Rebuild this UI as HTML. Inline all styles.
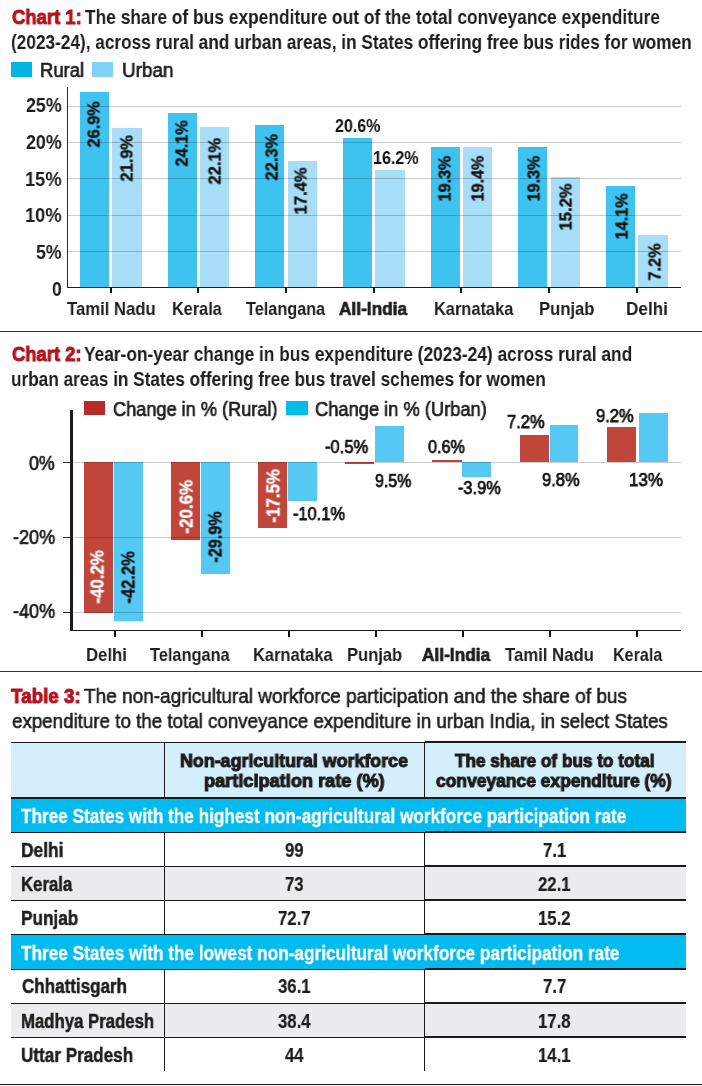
<!DOCTYPE html>
<html><head><meta charset="utf-8"><style>
html,body{margin:0;padding:0;background:#fff;}
body{width:702px;height:1086px;position:relative;overflow:hidden;font-family:"Liberation Sans", sans-serif;}
.r{position:absolute;}
.t{position:absolute;line-height:0;white-space:nowrap;transform-origin:0 0;will-change:transform;}
</style></head><body>
<div class="r" style="left:11.10px;top:61.80px;width:20.70px;height:15.00px;background:#00b4e6;"></div>
<div class="r" style="left:92.10px;top:61.80px;width:21.00px;height:15.00px;background:#80d1f3;"></div>
<div class="r" style="left:80.20px;top:92.10px;width:28.70px;height:194.90px;background:#3ec3f0;"></div>
<div class="r" style="left:112.20px;top:128.10px;width:29.60px;height:158.90px;background:#a8ddf7;"></div>
<div class="r" style="left:168.00px;top:113.00px;width:28.80px;height:174.00px;background:#3ec3f0;"></div>
<div class="r" style="left:200.20px;top:127.00px;width:28.80px;height:160.00px;background:#a8ddf7;"></div>
<div class="r" style="left:255.20px;top:125.10px;width:28.80px;height:161.90px;background:#3ec3f0;"></div>
<div class="r" style="left:288.40px;top:161.00px;width:28.50px;height:126.00px;background:#a8ddf7;"></div>
<div class="r" style="left:343.40px;top:137.90px;width:28.50px;height:149.10px;background:#3ec3f0;"></div>
<div class="r" style="left:375.00px;top:169.80px;width:29.90px;height:117.20px;background:#a8ddf7;"></div>
<div class="r" style="left:431.10px;top:146.80px;width:28.80px;height:140.20px;background:#3ec3f0;"></div>
<div class="r" style="left:463.00px;top:146.80px;width:28.80px;height:140.20px;background:#a8ddf7;"></div>
<div class="r" style="left:518.00px;top:146.90px;width:28.80px;height:140.10px;background:#3ec3f0;"></div>
<div class="r" style="left:551.20px;top:177.00px;width:28.60px;height:110.00px;background:#a8ddf7;"></div>
<div class="r" style="left:606.20px;top:186.20px;width:28.70px;height:100.80px;background:#3ec3f0;"></div>
<div class="r" style="left:638.20px;top:235.00px;width:29.60px;height:52.00px;background:#a8ddf7;"></div>
<div class="r" style="left:68.00px;top:106.00px;width:613.00px;height:1.00px;background:rgba(0,0,0,0.2);"></div>
<div class="r" style="left:68.00px;top:142.00px;width:613.00px;height:1.00px;background:rgba(0,0,0,0.2);"></div>
<div class="r" style="left:68.00px;top:178.00px;width:613.00px;height:1.00px;background:rgba(0,0,0,0.2);"></div>
<div class="r" style="left:68.00px;top:215.00px;width:613.00px;height:1.00px;background:rgba(0,0,0,0.2);"></div>
<div class="r" style="left:68.00px;top:251.00px;width:613.00px;height:1.00px;background:rgba(0,0,0,0.2);"></div>
<div class="r" style="left:66.90px;top:87.00px;width:1.20px;height:200.50px;background:#2b2b2b;"></div>
<div class="r" style="left:66.90px;top:286.80px;width:614.60px;height:1.20px;background:#1f1f1f;"></div>
<div class="r" style="left:110.00px;top:287.50px;width:2.00px;height:5.30px;background:#111;"></div>
<div class="r" style="left:197.40px;top:287.50px;width:2.00px;height:5.30px;background:#111;"></div>
<div class="r" style="left:284.60px;top:287.50px;width:2.00px;height:5.30px;background:#111;"></div>
<div class="r" style="left:372.50px;top:287.50px;width:2.00px;height:5.30px;background:#111;"></div>
<div class="r" style="left:459.90px;top:287.50px;width:2.00px;height:5.30px;background:#111;"></div>
<div class="r" style="left:547.90px;top:287.50px;width:2.00px;height:5.30px;background:#111;"></div>
<div class="r" style="left:635.60px;top:287.50px;width:2.00px;height:5.30px;background:#111;"></div>
<div class="r" style="left:0.00px;top:330.80px;width:702.00px;height:1.30px;background:#333;"></div>
<div class="r" style="left:83.70px;top:400.80px;width:21.50px;height:14.70px;background:#b92b2a;"></div>
<div class="r" style="left:286.30px;top:400.80px;width:21.60px;height:14.70px;background:#00bde9;"></div>
<div class="r" style="left:84.00px;top:462.40px;width:28.90px;height:150.40px;background:#c0453a;"></div>
<div class="r" style="left:114.10px;top:462.40px;width:28.70px;height:158.40px;background:#55c9f3;"></div>
<div class="r" style="left:171.20px;top:462.40px;width:28.70px;height:77.20px;background:#c0453a;"></div>
<div class="r" style="left:201.00px;top:462.40px;width:29.00px;height:112.10px;background:#55c9f3;"></div>
<div class="r" style="left:258.00px;top:462.40px;width:28.90px;height:65.30px;background:#c0453a;"></div>
<div class="r" style="left:288.10px;top:462.40px;width:28.90px;height:38.20px;background:#55c9f3;"></div>
<div class="r" style="left:345.00px;top:462.40px;width:28.70px;height:1.90px;background:#c0453a;"></div>
<div class="r" style="left:375.20px;top:426.00px;width:28.40px;height:36.40px;background:#55c9f3;"></div>
<div class="r" style="left:432.00px;top:460.10px;width:29.70px;height:2.30px;background:#c0453a;"></div>
<div class="r" style="left:462.00px;top:462.40px;width:29.00px;height:14.30px;background:#55c9f3;"></div>
<div class="r" style="left:520.20px;top:434.90px;width:28.70px;height:27.50px;background:#c0453a;"></div>
<div class="r" style="left:549.50px;top:424.90px;width:28.40px;height:37.50px;background:#55c9f3;"></div>
<div class="r" style="left:607.20px;top:427.10px;width:28.70px;height:35.30px;background:#c0453a;"></div>
<div class="r" style="left:639.20px;top:412.80px;width:28.70px;height:49.60px;background:#55c9f3;"></div>
<div class="r" style="left:73.00px;top:462.00px;width:608.00px;height:1.00px;background:rgba(0,0,0,0.2);"></div>
<div class="r" style="left:63.00px;top:461.90px;width:8.00px;height:1.20px;background:#2b2b2b;"></div>
<div class="r" style="left:73.00px;top:537.00px;width:608.00px;height:1.00px;background:rgba(0,0,0,0.2);"></div>
<div class="r" style="left:63.00px;top:536.90px;width:8.00px;height:1.20px;background:#2b2b2b;"></div>
<div class="r" style="left:73.00px;top:612.00px;width:608.00px;height:1.00px;background:rgba(0,0,0,0.2);"></div>
<div class="r" style="left:63.00px;top:611.90px;width:8.00px;height:1.20px;background:#2b2b2b;"></div>
<div class="r" style="left:70.30px;top:409.50px;width:2.70px;height:221.50px;background:#1a1a1a;"></div>
<div class="r" style="left:70.30px;top:629.80px;width:610.70px;height:1.40px;background:#1a1a1a;"></div>
<div class="r" style="left:113.95px;top:630.50px;width:1.90px;height:6.20px;background:#111;"></div>
<div class="r" style="left:200.85px;top:630.50px;width:1.90px;height:6.20px;background:#111;"></div>
<div class="r" style="left:288.05px;top:630.50px;width:1.90px;height:6.20px;background:#111;"></div>
<div class="r" style="left:375.15px;top:630.50px;width:1.90px;height:6.20px;background:#111;"></div>
<div class="r" style="left:462.25px;top:630.50px;width:1.90px;height:6.20px;background:#111;"></div>
<div class="r" style="left:549.45px;top:630.50px;width:1.90px;height:6.20px;background:#111;"></div>
<div class="r" style="left:636.05px;top:630.50px;width:1.90px;height:6.20px;background:#111;"></div>
<div class="r" style="left:0.00px;top:670.50px;width:702.00px;height:1.30px;background:#333;"></div>
<div class="r" style="left:11.00px;top:742.80px;width:674.70px;height:54.40px;background:#d5eefb;"></div>
<div class="r" style="left:11.00px;top:799.20px;width:674.70px;height:32.80px;background:#00bbf0;"></div>
<div class="r" style="left:11.00px;top:935.30px;width:674.70px;height:33.70px;background:#00bbf0;"></div>
<div class="r" style="left:11.00px;top:866.70px;width:674.70px;height:33.30px;background:#ebecee;"></div>
<div class="r" style="left:11.00px;top:1003.80px;width:674.70px;height:33.20px;background:#ebecee;"></div>
<div class="r" style="left:11.00px;top:741.80px;width:674.70px;height:1.00px;background:#1a1a1a;"></div>
<div class="r" style="left:424.50px;top:741.00px;width:261.20px;height:1.80px;background:#1a1a1a;"></div>
<div class="r" style="left:11.00px;top:797.20px;width:674.70px;height:2.00px;background:#1a1a1a;"></div>
<div class="r" style="left:11.00px;top:831.70px;width:674.70px;height:1.10px;background:#1a1a1a;"></div>
<div class="r" style="left:424.50px;top:830.80px;width:261.20px;height:2.00px;background:#1a1a1a;"></div>
<div class="r" style="left:11.00px;top:865.70px;width:674.70px;height:1.10px;background:#1a1a1a;"></div>
<div class="r" style="left:424.50px;top:864.80px;width:261.20px;height:2.00px;background:#1a1a1a;"></div>
<div class="r" style="left:11.00px;top:899.80px;width:674.70px;height:1.10px;background:#1a1a1a;"></div>
<div class="r" style="left:424.50px;top:898.90px;width:261.20px;height:2.00px;background:#1a1a1a;"></div>
<div class="r" style="left:11.00px;top:934.20px;width:674.70px;height:1.10px;background:#1a1a1a;"></div>
<div class="r" style="left:424.50px;top:933.30px;width:261.20px;height:2.00px;background:#1a1a1a;"></div>
<div class="r" style="left:11.00px;top:968.60px;width:674.70px;height:1.10px;background:#1a1a1a;"></div>
<div class="r" style="left:424.50px;top:967.70px;width:261.20px;height:2.00px;background:#1a1a1a;"></div>
<div class="r" style="left:11.00px;top:1003.00px;width:674.70px;height:1.10px;background:#1a1a1a;"></div>
<div class="r" style="left:424.50px;top:1002.10px;width:261.20px;height:2.00px;background:#1a1a1a;"></div>
<div class="r" style="left:11.00px;top:1037.00px;width:674.70px;height:1.10px;background:#1a1a1a;"></div>
<div class="r" style="left:424.50px;top:1036.10px;width:261.20px;height:2.00px;background:#1a1a1a;"></div>
<div class="r" style="left:164.20px;top:742.00px;width:1.10px;height:55.20px;background:#1a1a1a;"></div>
<div class="r" style="left:164.20px;top:832.00px;width:1.10px;height:102.50px;background:#1a1a1a;"></div>
<div class="r" style="left:164.20px;top:969.00px;width:1.10px;height:102.20px;background:#1a1a1a;"></div>
<div class="r" style="left:424.20px;top:742.00px;width:1.10px;height:55.20px;background:#1a1a1a;"></div>
<div class="r" style="left:424.20px;top:832.00px;width:1.10px;height:102.50px;background:#1a1a1a;"></div>
<div class="r" style="left:424.20px;top:969.00px;width:1.10px;height:102.20px;background:#1a1a1a;"></div>
<div class="r" style="left:0.00px;top:1083.80px;width:702.00px;height:1.60px;background:#1a1a1a;"></div>
<div class="t" style="left:12.00px;top:16.50px;font-size:20.5px;transform:scaleX(0.8991);"><span style="font-weight:bold;color:#b3141e;-webkit-text-stroke:1.0px">Chart 1:</span></div>
<div class="t" style="left:85.10px;top:16.50px;font-size:20.5px;transform:scaleX(0.8469);"><span style="font-weight:bold;color:#1d1d1b">The share of bus expenditure out of the total conveyance expenditure</span></div>
<div class="t" style="left:11.16px;top:41.50px;font-size:20.5px;transform:scaleX(0.8403);"><span style="font-weight:bold;color:#1d1d1b">(2023-24), across rural and urban areas, in States offering free bus rides for women</span></div>
<div class="t" style="left:39.88px;top:70.00px;font-size:20px;transform:scaleX(0.9234);-webkit-text-stroke:0.7px;"><span style="font-weight:normal;color:#1d1d1b">Rural</span></div>
<div class="t" style="left:121.65px;top:70.00px;font-size:20px;transform:scaleX(0.9456);-webkit-text-stroke:0.7px;"><span style="font-weight:normal;color:#1d1d1b">Urban</span></div>
<div class="t" style="left:99.90px;top:141.70px;font-size:17px;transform-origin:0 5.50px;transform:rotate(-90deg) scaleX(0.9608);-webkit-text-stroke:0.4px;"><span style="font-weight:bold;color:#111">26.9%</span></div>
<div class="t" style="left:132.90px;top:176.30px;font-size:17px;transform-origin:0 5.50px;transform:rotate(-90deg) scaleX(0.9628);-webkit-text-stroke:0.4px;"><span style="font-weight:bold;color:#111">21.9%</span></div>
<div class="t" style="left:187.90px;top:161.30px;font-size:17px;transform-origin:0 5.50px;transform:rotate(-90deg) scaleX(0.9587);-webkit-text-stroke:0.4px;"><span style="font-weight:bold;color:#111">24.1%</span></div>
<div class="t" style="left:221.30px;top:178.70px;font-size:17px;transform-origin:0 5.50px;transform:rotate(-90deg) scaleX(0.9670);-webkit-text-stroke:0.4px;"><span style="font-weight:bold;color:#111">22.1%</span></div>
<div class="t" style="left:277.50px;top:175.10px;font-size:17px;transform-origin:0 5.50px;transform:rotate(-90deg) scaleX(0.9670);-webkit-text-stroke:0.4px;"><span style="font-weight:bold;color:#111">22.3%</span></div>
<div class="t" style="left:307.30px;top:209.48px;font-size:17px;transform-origin:0 5.50px;transform:rotate(-90deg) scaleX(0.9769);-webkit-text-stroke:0.4px;"><span style="font-weight:bold;color:#111">17.4%</span></div>
<div class="t" style="left:451.20px;top:195.95px;font-size:17px;transform-origin:0 5.50px;transform:rotate(-90deg) scaleX(0.9514);-webkit-text-stroke:0.4px;"><span style="font-weight:bold;color:#111">19.3%</span></div>
<div class="t" style="left:483.90px;top:195.95px;font-size:17px;transform-origin:0 5.50px;transform:rotate(-90deg) scaleX(0.9514);-webkit-text-stroke:0.4px;"><span style="font-weight:bold;color:#111">19.4%</span></div>
<div class="t" style="left:540.00px;top:195.95px;font-size:17px;transform-origin:0 5.50px;transform:rotate(-90deg) scaleX(0.9514);-webkit-text-stroke:0.4px;"><span style="font-weight:bold;color:#111">19.3%</span></div>
<div class="t" style="left:572.00px;top:225.08px;font-size:17px;transform-origin:0 5.50px;transform:rotate(-90deg) scaleX(0.9769);-webkit-text-stroke:0.4px;"><span style="font-weight:bold;color:#111">15.2%</span></div>
<div class="t" style="left:627.70px;top:233.56px;font-size:17px;transform-origin:0 5.50px;transform:rotate(-90deg) scaleX(0.9578);-webkit-text-stroke:0.4px;"><span style="font-weight:bold;color:#111">14.1%</span></div>
<div class="t" style="left:661.30px;top:275.30px;font-size:17px;transform-origin:0 5.50px;transform:rotate(-90deg) scaleX(0.9526);-webkit-text-stroke:0.4px;"><span style="font-weight:bold;color:#111">7.2%</span></div>
<div class="t" style="left:335.20px;top:126.00px;font-size:17.5px;transform:scaleX(0.9169);"><span style="font-weight:bold;color:#111">20.6%</span></div>
<div class="t" style="left:372.98px;top:158.00px;font-size:17.5px;transform:scaleX(0.9213);"><span style="font-weight:bold;color:#111">16.2%</span></div>
<div class="t" style="left:26.00px;top:105.00px;font-size:20px;transform:scaleX(0.8920);"><span style="font-weight:bold;color:#1d1d1b">25%</span></div>
<div class="t" style="left:26.00px;top:142.00px;font-size:20px;transform:scaleX(0.8920);"><span style="font-weight:bold;color:#1d1d1b">20%</span></div>
<div class="t" style="left:25.09px;top:179.00px;font-size:20px;transform:scaleX(0.9147);"><span style="font-weight:bold;color:#1d1d1b">15%</span></div>
<div class="t" style="left:25.09px;top:215.00px;font-size:20px;transform:scaleX(0.9147);"><span style="font-weight:bold;color:#1d1d1b">10%</span></div>
<div class="t" style="left:36.10px;top:252.00px;font-size:20px;transform:scaleX(0.8859);"><span style="font-weight:bold;color:#1d1d1b">5%</span></div>
<div class="t" style="left:52.30px;top:289.00px;font-size:20px;transform:scaleX(0.8727);"><span style="font-weight:bold;color:#1d1d1b">0</span></div>
<div class="t" style="left:66.50px;top:308.50px;font-size:18.5px;transform:scaleX(0.9017);"><span style="font-weight:bold;color:#1d1d1b">Tamil Nadu</span></div>
<div class="t" style="left:172.22px;top:308.50px;font-size:18.5px;transform:scaleX(0.8796);"><span style="font-weight:bold;color:#1d1d1b">Kerala</span></div>
<div class="t" style="left:245.70px;top:308.50px;font-size:18.5px;transform:scaleX(0.8785);"><span style="font-weight:bold;color:#1d1d1b">Telangana</span></div>
<div class="t" style="left:339.00px;top:308.50px;font-size:18.5px;transform:scaleX(0.9324);-webkit-text-stroke:0.7px;"><span style="font-weight:bold;color:#1d1d1b">All-India</span></div>
<div class="t" style="left:433.61px;top:308.50px;font-size:18.5px;transform:scaleX(0.8859);"><span style="font-weight:bold;color:#1d1d1b">Karnataka</span></div>
<div class="t" style="left:539.20px;top:308.50px;font-size:18.5px;transform:scaleX(0.8995);"><span style="font-weight:bold;color:#1d1d1b">Punjab</span></div>
<div class="t" style="left:625.57px;top:308.50px;font-size:18.5px;transform:scaleX(0.9283);"><span style="font-weight:bold;color:#1d1d1b">Delhi</span></div>
<div class="t" style="left:12.00px;top:353.50px;font-size:20.5px;transform:scaleX(0.8965);"><span style="font-weight:bold;color:#b3141e;-webkit-text-stroke:1.0px">Chart 2:</span></div>
<div class="t" style="left:84.10px;top:353.50px;font-size:20.5px;transform:scaleX(0.8441);"><span style="font-weight:bold;color:#1d1d1b">Year-on-year change in bus expenditure (2023-24) across rural and</span></div>
<div class="t" style="left:11.16px;top:378.50px;font-size:20.5px;transform:scaleX(0.8382);"><span style="font-weight:bold;color:#1d1d1b">urban areas in States offering free bus travel schemes for women</span></div>
<div class="t" style="left:112.89px;top:409.00px;font-size:20px;transform:scaleX(0.9079);-webkit-text-stroke:0.7px;"><span style="font-weight:normal;color:#1d1d1b">Change in % (Rural)</span></div>
<div class="t" style="left:315.49px;top:409.00px;font-size:20px;transform:scaleX(0.9146);-webkit-text-stroke:0.7px;"><span style="font-weight:normal;color:#1d1d1b">Change in % (Urban)</span></div>
<div class="t" style="left:104.40px;top:597.30px;font-size:18.5px;transform-origin:0 6.50px;transform:rotate(-90deg) scaleX(0.9077);-webkit-text-stroke:0.4px;"><span style="font-weight:bold;color:#fff">-40.2%</span></div>
<div class="t" style="left:134.80px;top:597.30px;font-size:18.5px;transform-origin:0 6.50px;transform:rotate(-90deg) scaleX(0.8905);-webkit-text-stroke:0.4px;"><span style="font-weight:bold;color:#111">-42.2%</span></div>
<div class="t" style="left:193.20px;top:526.50px;font-size:18.5px;transform-origin:0 6.50px;transform:rotate(-90deg) scaleX(0.9129);-webkit-text-stroke:0.4px;"><span style="font-weight:bold;color:#fff">-20.6%</span></div>
<div class="t" style="left:222.40px;top:556.10px;font-size:18.5px;transform-origin:0 6.50px;transform:rotate(-90deg) scaleX(0.8699);-webkit-text-stroke:0.4px;"><span style="font-weight:bold;color:#111">-29.9%</span></div>
<div class="t" style="left:280.10px;top:515.50px;font-size:18.5px;transform-origin:0 6.50px;transform:rotate(-90deg) scaleX(0.9095);-webkit-text-stroke:0.4px;"><span style="font-weight:bold;color:#fff">-17.5%</span></div>
<div class="t" style="left:293.00px;top:514.00px;font-size:17.5px;transform:scaleX(0.9365);-webkit-text-stroke:0.75px;"><span style="font-weight:normal;color:#111">-10.1%</span></div>
<div class="t" style="left:325.00px;top:447.00px;font-size:17.5px;transform:scaleX(0.9434);-webkit-text-stroke:0.75px;"><span style="font-weight:normal;color:#111">-0.5%</span></div>
<div class="t" style="left:375.20px;top:481.00px;font-size:17.5px;transform:scaleX(0.9128);-webkit-text-stroke:0.75px;"><span style="font-weight:normal;color:#111">9.5%</span></div>
<div class="t" style="left:428.20px;top:447.00px;font-size:17.5px;transform:scaleX(0.9281);-webkit-text-stroke:0.75px;"><span style="font-weight:normal;color:#111">0.6%</span></div>
<div class="t" style="left:458.00px;top:488.00px;font-size:17.5px;transform:scaleX(0.9346);-webkit-text-stroke:0.75px;"><span style="font-weight:normal;color:#111">-3.9%</span></div>
<div class="t" style="left:506.60px;top:422.00px;font-size:17.5px;transform:scaleX(0.9459);-webkit-text-stroke:0.75px;"><span style="font-weight:normal;color:#111">7.2%</span></div>
<div class="t" style="left:541.80px;top:480.00px;font-size:17.5px;transform:scaleX(0.9459);-webkit-text-stroke:0.75px;"><span style="font-weight:normal;color:#111">9.8%</span></div>
<div class="t" style="left:596.30px;top:416.00px;font-size:17.5px;transform:scaleX(0.9459);-webkit-text-stroke:0.75px;"><span style="font-weight:normal;color:#111">9.2%</span></div>
<div class="t" style="left:629.43px;top:480.00px;font-size:17.5px;transform:scaleX(0.9682);-webkit-text-stroke:0.75px;"><span style="font-weight:normal;color:#111">13%</span></div>
<div class="t" style="left:29.10px;top:463.00px;font-size:20px;transform:scaleX(0.8893);-webkit-text-stroke:0.7px;"><span style="font-weight:normal;color:#1d1d1b">0%</span></div>
<div class="t" style="left:12.70px;top:537.00px;font-size:20px;transform:scaleX(0.9018);-webkit-text-stroke:0.7px;"><span style="font-weight:normal;color:#1d1d1b">-20%</span></div>
<div class="t" style="left:12.70px;top:611.00px;font-size:20px;transform:scaleX(0.9018);-webkit-text-stroke:0.7px;"><span style="font-weight:normal;color:#1d1d1b">-40%</span></div>
<div class="t" style="left:85.99px;top:654.50px;font-size:18.5px;transform:scaleX(0.9051);"><span style="font-weight:bold;color:#1d1d1b">Delhi</span></div>
<div class="t" style="left:149.70px;top:654.50px;font-size:18.5px;transform:scaleX(0.8840);"><span style="font-weight:bold;color:#1d1d1b">Telangana</span></div>
<div class="t" style="left:252.81px;top:654.50px;font-size:18.5px;transform:scaleX(0.8893);"><span style="font-weight:bold;color:#1d1d1b">Karnataka</span></div>
<div class="t" style="left:346.81px;top:654.50px;font-size:18.5px;transform:scaleX(0.8945);"><span style="font-weight:bold;color:#1d1d1b">Punjab</span></div>
<div class="t" style="left:422.20px;top:654.50px;font-size:18.5px;transform:scaleX(0.9337);-webkit-text-stroke:0.7px;"><span style="font-weight:bold;color:#1d1d1b">All-India</span></div>
<div class="t" style="left:504.80px;top:654.50px;font-size:18.5px;transform:scaleX(0.9038);"><span style="font-weight:bold;color:#1d1d1b">Tamil Nadu</span></div>
<div class="t" style="left:612.53px;top:654.50px;font-size:18.5px;transform:scaleX(0.8707);"><span style="font-weight:bold;color:#1d1d1b">Kerala</span></div>
<div class="t" style="left:11.30px;top:695.50px;font-size:21px;transform:scaleX(0.8971);"><span style="font-weight:bold;color:#b3141e;-webkit-text-stroke:1.0px">Table 3:</span></div>
<div class="t" style="left:84.05px;top:695.50px;font-size:21px;transform:scaleX(0.9050);-webkit-text-stroke:0.6px;"><span style="font-weight:normal;color:#1d1d1b">The non-agricultural workforce participation and the share of bus</span></div>
<div class="t" style="left:11.60px;top:720.50px;font-size:21px;transform:scaleX(0.8930);-webkit-text-stroke:0.6px;"><span style="font-weight:normal;color:#1d1d1b">expenditure to the total conveyance expenditure in urban India, in select States</span></div>
<div class="t" style="left:180.04px;top:760.50px;font-size:18.5px;transform:scaleX(0.9641);-webkit-text-stroke:1.1px;"><span style="font-weight:bold;color:#1d1d1b">Non-agricultural workforce</span></div>
<div class="t" style="left:203.72px;top:780.50px;font-size:18.5px;transform:scaleX(0.9818);-webkit-text-stroke:1.1px;"><span style="font-weight:bold;color:#1d1d1b">participation rate (%)</span></div>
<div class="t" style="left:454.90px;top:760.50px;font-size:18.5px;transform:scaleX(0.9285);-webkit-text-stroke:1.1px;"><span style="font-weight:bold;color:#1d1d1b">The share of bus to total</span></div>
<div class="t" style="left:435.80px;top:780.50px;font-size:18.5px;transform:scaleX(0.9428);-webkit-text-stroke:1.1px;"><span style="font-weight:bold;color:#1d1d1b">conveyance expenditure (%)</span></div>
<div class="t" style="left:21.20px;top:816.00px;font-size:20px;transform:scaleX(0.8590);-webkit-text-stroke:0.3px;"><span style="font-weight:bold;color:#fff">Three States with the highest non-agricultural workforce participation rate</span></div>
<div class="t" style="left:21.40px;top:953.00px;font-size:20px;transform:scaleX(0.8602);-webkit-text-stroke:0.3px;"><span style="font-weight:bold;color:#fff">Three States with the lowest non-agricultural workforce participation rate</span></div>
<div class="t" style="left:21.11px;top:850.00px;font-size:19.5px;transform:scaleX(0.8907);-webkit-text-stroke:0.5px;"><span style="font-weight:bold;color:#1d1d1b">Delhi</span></div>
<div class="t" style="left:284.71px;top:850.00px;font-size:19.5px;transform:scaleX(0.8600);-webkit-text-stroke:0.2px;"><span style="font-weight:bold;color:#1d1d1b">99</span></div>
<div class="t" style="left:542.68px;top:850.00px;font-size:19.5px;transform:scaleX(0.8600);-webkit-text-stroke:0.2px;"><span style="font-weight:bold;color:#1d1d1b">7.1</span></div>
<div class="t" style="left:21.14px;top:884.00px;font-size:19.5px;transform:scaleX(0.8592);-webkit-text-stroke:0.5px;"><span style="font-weight:bold;color:#1d1d1b">Kerala</span></div>
<div class="t" style="left:284.71px;top:884.00px;font-size:19.5px;transform:scaleX(0.8600);-webkit-text-stroke:0.2px;"><span style="font-weight:bold;color:#1d1d1b">73</span></div>
<div class="t" style="left:538.01px;top:884.00px;font-size:19.5px;transform:scaleX(0.8600);-webkit-text-stroke:0.2px;"><span style="font-weight:bold;color:#1d1d1b">22.1</span></div>
<div class="t" style="left:21.12px;top:918.00px;font-size:19.5px;transform:scaleX(0.8815);-webkit-text-stroke:0.5px;"><span style="font-weight:bold;color:#1d1d1b">Punjab</span></div>
<div class="t" style="left:278.14px;top:918.00px;font-size:19.5px;transform:scaleX(0.8600);-webkit-text-stroke:0.2px;"><span style="font-weight:bold;color:#1d1d1b">72.7</span></div>
<div class="t" style="left:537.58px;top:918.00px;font-size:19.5px;transform:scaleX(0.8600);-webkit-text-stroke:0.2px;"><span style="font-weight:bold;color:#1d1d1b">15.2</span></div>
<div class="t" style="left:22.00px;top:986.00px;font-size:19.5px;transform:scaleX(0.8731);-webkit-text-stroke:0.5px;"><span style="font-weight:bold;color:#1d1d1b">Chhattisgarh</span></div>
<div class="t" style="left:277.71px;top:986.00px;font-size:19.5px;transform:scaleX(0.8600);-webkit-text-stroke:0.2px;"><span style="font-weight:bold;color:#1d1d1b">36.1</span></div>
<div class="t" style="left:543.11px;top:986.00px;font-size:19.5px;transform:scaleX(0.8600);-webkit-text-stroke:0.2px;"><span style="font-weight:bold;color:#1d1d1b">7.7</span></div>
<div class="t" style="left:21.14px;top:1021.00px;font-size:19.5px;transform:scaleX(0.8591);-webkit-text-stroke:0.5px;"><span style="font-weight:bold;color:#1d1d1b">Madhya Pradesh</span></div>
<div class="t" style="left:277.71px;top:1021.00px;font-size:19.5px;transform:scaleX(0.8600);-webkit-text-stroke:0.2px;"><span style="font-weight:bold;color:#1d1d1b">38.4</span></div>
<div class="t" style="left:537.58px;top:1021.00px;font-size:19.5px;transform:scaleX(0.8600);-webkit-text-stroke:0.2px;"><span style="font-weight:bold;color:#1d1d1b">17.8</span></div>
<div class="t" style="left:21.12px;top:1055.00px;font-size:19.5px;transform:scaleX(0.8772);-webkit-text-stroke:0.5px;"><span style="font-weight:bold;color:#1d1d1b">Uttar Pradesh</span></div>
<div class="t" style="left:284.71px;top:1055.00px;font-size:19.5px;transform:scaleX(0.8600);-webkit-text-stroke:0.2px;"><span style="font-weight:bold;color:#1d1d1b">44</span></div>
<div class="t" style="left:537.58px;top:1055.00px;font-size:19.5px;transform:scaleX(0.8600);-webkit-text-stroke:0.2px;"><span style="font-weight:bold;color:#1d1d1b">14.1</span></div>
</body></html>
